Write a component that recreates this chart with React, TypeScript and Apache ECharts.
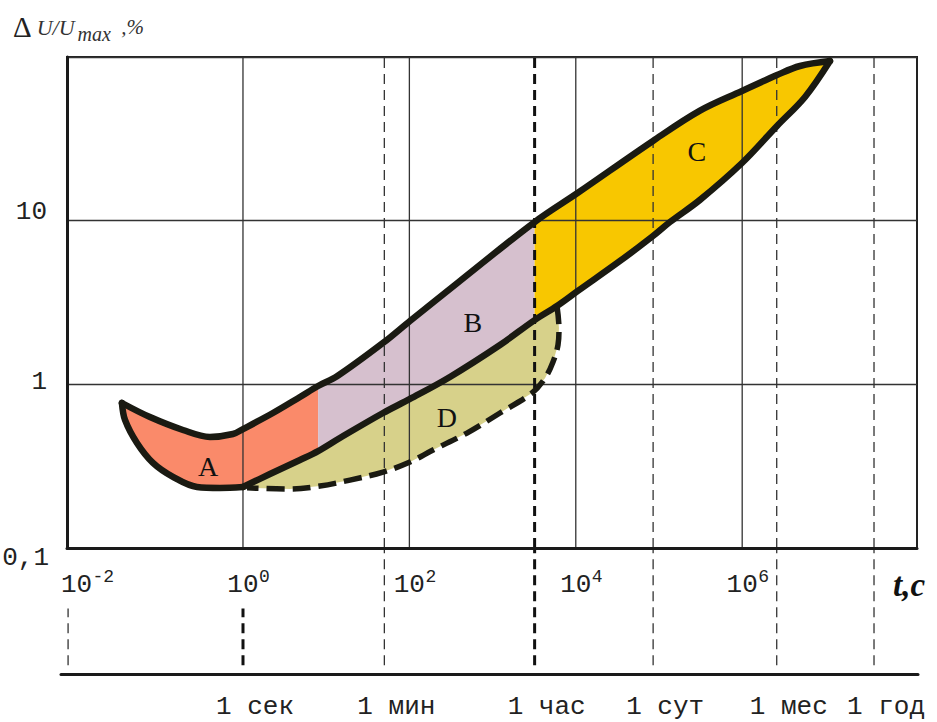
import React, { useEffect, useRef } from 'react';
import * as echarts from 'echarts';

type P = [number, number];

// ---- data: [t (s), ΔU/Umax (%)] ----
const upperA: P[] = [
  [0.0351, 0.769], [0.0762, 0.631], [0.19, 0.526], [0.401, 0.477], [0.758, 0.497],
  [1, 0.533], [2.29, 0.668], [4.84, 0.837], [8, 0.977],
];
const upperB: P[] = [
  [8, 0.977], [13.5, 1.12], [48.2, 1.79], [101.6, 2.44], [405, 4.28], [3200, 9.81],
];
const upperC: P[] = [
  [3200, 9.81], [10600, 14.8], [84700, 30.7], [311000, 47], [995000, 62], [2.62e6, 77.6],
  [4.95e6, 88.1], [1.135e7, 94.5],
];
const lowerA: P[] = [
  [0.0351, 0.769], [0.0382, 0.606], [0.0532, 0.438], [0.0828, 0.331], [0.144, 0.272],
  [0.28, 0.236], [0.529, 0.233], [1, 0.236],
];
const midA: P[] = [[1, 0.236], [2.11, 0.283], [4.84, 0.345], [8, 0.391]];
const midB: P[] = [
  [8, 0.391], [14.6, 0.47], [48.2, 0.668], [101.6, 0.814], [307, 1.11], [1227, 1.74], [3200, 2.47],
];
const midD: P[] = [[3200, 2.47], [5940, 3.01]];
const midC: P[] = [
  [5940, 3.01], [10600, 3.72], [34000, 5.67], [84700, 8.06], [135500, 9.81], [311000, 13.4],
  [995000, 22.5], [2.62e6, 37.9], [5.69e6, 57.0], [1.135e7, 94.5],
];
const dBottom: P[] = [
  [5940, 3.01], [6280, 2.21], [6110, 1.74], [5320, 1.37], [4265, 1.09], [2975, 0.885],
  [1227, 0.668], [492, 0.504], [192, 0.397], [101.6, 0.335], [48.2, 0.291], [19.3, 0.26],
  [8.42, 0.239], [3.67, 0.229], [1.12, 0.233],
];

const regionNames = ['A', 'B', 'C', 'D'];
const regionLabelPos: P[] = [[0.38, 0.313], [581, 2.4], [286000, 26.3], [283, 0.623]];

const gridT = [1, 100, 1e4, 1e6];
const xTickValues = [0.01, 1, 100, 1e4, 1e6];
const xTickSup = ['-2', '0', '2', '4', '6'];
const yTickExp = [-1, 0, 1];
const yTickLabels = ['0,1', '1', '10'];

const timeMarks = [0.0079, 1, 50, 3200, 85000, 2.6e6, 3.84e7];
const timeLabels = ['', '1 сек', '1 мин', '1 час', '1 сут', '1 мес', '1 год'];
const timeBold = [false, true, false, true, false, false, false];
const timeInPlot = [false, false, true, true, true, true, true];

// ---- styles / layout ----
const regionColors = ['#FA8A6A', '#D6C0CE', '#F8C700', '#D7D18A'];
const OUT = '#1A1A12';
const GRIDC = '#333';
const MONO = '"Liberation Mono", "DejaVu Sans Mono", monospace';
const SERIF = '"Liberation Serif", "DejaVu Serif", serif';
const Y_MIN = 0.1;
const Y_MAX = 100;

const rev = (a: P[]) => a.slice().reverse();
const regionPolys: P[][] = [
  [...upperA, ...rev(midA), ...rev(lowerA)],
  [...upperB, ...rev(midB)],
  [...upperC, ...rev(midC), ...rev(midD)],
  [...midA, ...midB.slice(1), ...midD.slice(1), ...dBottom],
];
const upperLine = [...upperA, ...upperB.slice(1), ...upperC.slice(1)];
const midLine = [...midA, ...midB.slice(1), ...midD.slice(1), ...midC.slice(1)];

const txt = (x: number, y: number, text: string, font: string, align: string) => ({
  type: 'text',
  x,
  y,
  style: {
    text,
    font,
    fill: '#222',
    align,
    verticalAlign: 'middle',
    textAlign: align,
    textVerticalAlign: 'middle',
  },
});

const option: any = {
  animation: false,
  backgroundColor: '#fff',
  title: [
    {
      text: '{d|Δ}{u|U/U}{m|max}{p|  ,%}',
      left: 13,
      top: 10,
      padding: 0,
      textStyle: {
        fontWeight: 'normal',
        rich: {
          d: { fontFamily: SERIF, fontWeight: 'normal', fontSize: 29, color: '#222', lineHeight: 34, verticalAlign: 'middle' },
          u: { fontFamily: SERIF, fontWeight: 'normal', fontStyle: 'italic', fontSize: 22, color: '#333', lineHeight: 34, verticalAlign: 'middle', padding: [0, 0, 0, 5] },
          m: { fontFamily: SERIF, fontWeight: 'normal', fontStyle: 'italic', fontSize: 20, color: '#333', lineHeight: 14, verticalAlign: 'bottom', padding: [0, 0, 0, 3] },
          p: { fontFamily: SERIF, fontWeight: 'normal', fontStyle: 'italic', fontSize: 21, color: '#333', lineHeight: 34, verticalAlign: 'middle' },
        },
      },
    },
    {
      text: 't,c',
      left: 893,
      top: 568,
      padding: 0,
      textStyle: { fontFamily: SERIF, fontStyle: 'italic', fontWeight: 'bold', fontSize: 33, color: '#111', lineHeight: 34 },
    },
  ],
  grid: [
    {
      left: 67, right: 20, top: 57, bottom: 174,
      show: true, borderColor: '#222', borderWidth: 2, backgroundColor: 'transparent',
      containLabel: false, outerBoundsMode: 'none',
    },
    { left: 61, right: 19, top: 548, bottom: 48, show: false, containLabel: false, outerBoundsMode: 'none' },
  ],
  xAxis: [
    {
      gridIndex: 0, type: 'log', min: Math.pow(10, -2.115), max: Math.pow(10, 8.101), z: 3,
      axisLine: { show: true, onZero: false, lineStyle: { color: '#1A1A1A', width: 3 } },
      axisTick: { show: false }, axisLabel: { show: false }, splitLine: { show: false },
    },
    {
      gridIndex: 1, type: 'log', min: Math.pow(10, -2.1875), max: Math.pow(10, 8.113), z: 3,
      axisLine: { show: true, onZero: false, lineStyle: { color: '#1A1A1A', width: 3 } },
      axisTick: { show: false }, axisLabel: { show: false }, splitLine: { show: false },
    },
  ],
  yAxis: [
    {
      gridIndex: 0, type: 'log', min: Y_MIN, max: Y_MAX, z: 3,
      axisLine: { show: true, onZero: false, lineStyle: { color: '#1A1A1A', width: 3 } },
      axisTick: { show: false },
      splitLine: { show: true, lineStyle: { color: GRIDC, width: 1.3 } },
      axisLabel: {
        margin: 16, showMinLabel: true, showMaxLabel: true,
        fontFamily: MONO, fontSize: 26, color: '#222',
        formatter: (v: number) => {
          const e = Math.round(Math.log10(v));
          const i = yTickExp.indexOf(e);
          if (i < 0) return '';
          const cls = e === 1 ? 'up' : e === 0 ? 'mid' : 'down';
          return `{${cls}|${yTickLabels[i]}}`;
        },
        rich: {
          up: { fontFamily: MONO, fontSize: 26, color: '#222', padding: [0, 4, 18, 0] },
          mid: { fontFamily: MONO, fontSize: 26, color: '#222', padding: [0, 4, 4, 0] },
          down: { fontFamily: MONO, fontSize: 26, color: '#222', padding: [20, 2, 0, 0] },
        },
      },
    },
    { gridIndex: 1, type: 'value', min: 0, max: 1, show: false },
  ],
  series: [
    {
      type: 'custom', name: 'regions', xAxisIndex: 0, yAxisIndex: 0, z: 1, silent: true, clip: false,
      data: regionLabelPos,
      renderItem: (params: any, api: any) => {
        const i = params.dataIndex;
        const pts = regionPolys[i].map((p) => api.coord(p));
        const lp = api.coord([api.value(0), api.value(1)]);
        return {
          type: 'group',
          children: [
            { type: 'polygon', shape: { points: pts, smooth: 0 }, style: { fill: regionColors[i], stroke: null, lineWidth: 0 } },
            {
              type: 'text', x: lp[0], y: lp[1],
              style: {
                text: regionNames[i], font: `28px ${SERIF}`, fill: '#111',
                align: 'center', verticalAlign: 'middle', textAlign: 'center', textVerticalAlign: 'middle',
              },
            },
          ],
        };
      },
    },
    {
      type: 'custom', name: 'vgrid', xAxisIndex: 0, yAxisIndex: 0, z: 3, silent: true, clip: false,
      data: gridT.map((t) => [t, Y_MIN]),
      renderItem: (params: any, api: any) => {
        const a = api.coord([api.value(0), Y_MIN]);
        const b = api.coord([api.value(0), Y_MAX]);
        return { type: 'line', shape: { x1: a[0], y1: a[1], x2: b[0], y2: b[1] }, style: { stroke: GRIDC, lineWidth: 1.3 } };
      },
    },
    {
      type: 'custom', name: 'xticks', xAxisIndex: 0, yAxisIndex: 0, z: 3, silent: true, clip: false,
      data: xTickValues.map((t) => [t, Y_MIN]),
      renderItem: (params: any, api: any) => {
        const c = api.coord([api.value(0), Y_MIN]);
        return {
          type: 'group',
          children: [
            txt(c[0], c[1] + 37, '10', `26px ${MONO}`, 'center'),
            txt(c[0] + 16, c[1] + 29, xTickSup[params.dataIndex], `18px ${MONO}`, 'left'),
          ],
        };
      },
    },
    {
      type: 'custom', name: 'timeMarksTop', xAxisIndex: 0, yAxisIndex: 0, z: 3, silent: true, clip: false,
      data: timeMarks.map((t, i) => [t, Y_MIN, i]).filter((d) => timeInPlot[d[2]]),
      renderItem: (params: any, api: any) => {
        const i = api.value(2);
        const a = api.coord([api.value(0), Y_MIN]);
        const b = api.coord([api.value(0), Y_MAX]);
        const bold = timeBold[i];
        return {
          type: 'line', shape: { x1: a[0], y1: a[1], x2: b[0], y2: b[1] },
          style: { stroke: bold ? '#111' : GRIDC, lineWidth: bold ? 3 : 1.3, lineDash: [10, 6] },
        };
      },
    },
    {
      type: 'custom', name: 'timeMarksBottom', xAxisIndex: 1, yAxisIndex: 1, z: 3, silent: true, clip: false,
      data: timeMarks.map((t) => [t, 0]),
      renderItem: (params: any, api: any) => {
        const i = params.dataIndex;
        const bold = timeBold[i];
        const a = api.coord([api.value(0), 0.07]);
        const b = api.coord([api.value(0), timeInPlot[i] ? 1 : 0.52]);
        const base = api.coord([api.value(0), 0]);
        const children: any[] = [
          {
            type: 'line', shape: { x1: a[0], y1: a[1], x2: b[0], y2: b[1] },
            style: { stroke: bold ? '#111' : GRIDC, lineWidth: bold ? 3 : 1.3, lineDash: [10, 6] },
          },
        ];
        if (timeLabels[i]) children.push(txt(base[0] - 27, base[1] + 33, timeLabels[i], `26px ${MONO}`, 'left'));
        return { type: 'group', children };
      },
    },
    {
      type: 'line', name: 'upper', xAxisIndex: 0, yAxisIndex: 0, z: 5, silent: true,
      data: upperLine, symbol: 'none', showSymbol: false, smooth: 0.35,
      lineStyle: { color: OUT, width: 6.5, cap: 'round', join: 'round' },
    },
    {
      type: 'line', name: 'lowerA', xAxisIndex: 0, yAxisIndex: 0, z: 5, silent: true,
      data: lowerA, symbol: 'none', showSymbol: false, smooth: 0.35,
      lineStyle: { color: OUT, width: 6.5, cap: 'round', join: 'round' },
    },
    {
      type: 'line', name: 'mid', xAxisIndex: 0, yAxisIndex: 0, z: 5, silent: true,
      data: midLine, symbol: 'none', showSymbol: false, smooth: 0.35,
      lineStyle: { color: OUT, width: 6.5, cap: 'round', join: 'round' },
    },
    {
      type: 'line', name: 'dBottom', xAxisIndex: 0, yAxisIndex: 0, z: 5, silent: true,
      data: dBottom, symbol: 'none', showSymbol: false, smooth: 0.35,
      lineStyle: { color: OUT, width: 5.5, type: [18, 8], cap: 'butt', join: 'round' },
    },
  ],
};

const App = () => {
  const ref = useRef<HTMLDivElement>(null);
  useEffect(() => {
    const chart = echarts.init(ref.current as HTMLDivElement, undefined, { renderer: 'svg' });
    chart.setOption(option);
    return () => chart.dispose();
  }, []);
  return (
    <div
      ref={ref}
      style={{ position: 'absolute', left: 0, top: 0, width: 937, height: 722, background: '#fff' }}
    />
  );
};

export default App;
